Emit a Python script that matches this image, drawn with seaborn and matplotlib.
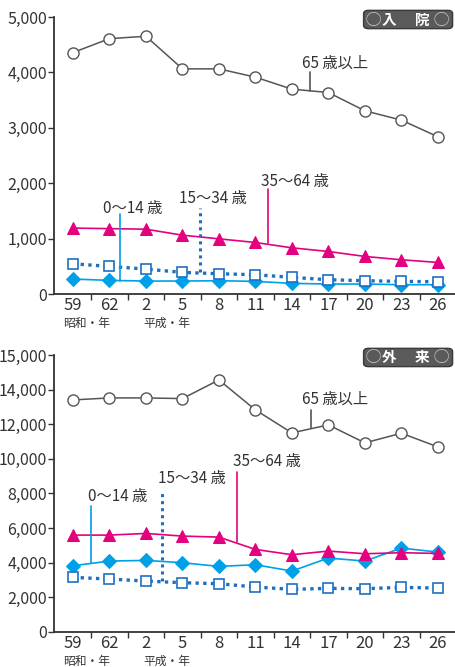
import numpy as np
import pandas as pd
import matplotlib
matplotlib.use('Agg')
import matplotlib.pyplot as plt
import seaborn as sns
from matplotlib.patches import FancyBboxPatch
from matplotlib.transforms import blended_transform_factory

# x categories (昭和59年 ... 平成26年)
years = ['59', '62', '2', '5', '8', '11', '14', '17', '20', '23', '26']

# 入院
inp_65 = [4358, 4610, 4652, 4064, 4064, 3914, 3698, 3637, 3307, 3139, 2839]
inp_35 = [1190, 1180, 1170, 1062, 996, 930, 834, 768, 678, 618, 570]
inp_15 = [546, 498, 450, 390, 366, 348, 300, 258, 240, 228, 222]
inp_0 = [270, 246, 234, 234, 240, 228, 192, 180, 180, 168, 168]

# 外来
out_65 = [13404, 13519, 13519, 13481, 14558, 12827, 11500, 11962, 10923, 11481, 10692]
out_35 = [5596, 5596, 5692, 5538, 5481, 4769, 4462, 4673, 4519, 4577, 4538]
out_15 = [3154, 3058, 2942, 2846, 2788, 2596, 2462, 2519, 2500, 2577, 2538]
out_0 = [3827, 4096, 4135, 4000, 3788, 3885, 3519, 4269, 4096, 4846, 4615]

inp_ticks = [0, 1000, 2000, 3000, 4000, 5000]
inp_ticklabels = ['0', '1,000', '2,000', '3,000', '4,000', '5,000']
# the original's top label reads 15,000 although spaced like 16,000
out_ticks = [0, 2000, 4000, 6000, 8000, 10000, 12000, 14000, 16000]
out_ticklabels = ['0', '2,000', '4,000', '6,000', '8,000', '10,000', '12,000', '14,000', '15,000']

sns.set_style('ticks')
plt.rcParams['font.family'] = ['Noto Sans CJK JP', 'DejaVu Sans']

GRAY = '#555555'
MAGENTA = '#e4007f'
DBLUE = '#1f6fc0'
LBLUE = '#00a0e9'
TXT = '#333333'

fig = plt.figure(figsize=(4.55, 6.67), dpi=100)
ax1 = fig.add_axes([0.1187, 0.5592, 0.8813, 0.4153])
ax2 = fig.add_axes([0.1187, 0.0525, 0.8813, 0.4153])

x = np.arange(len(years))


def draw(ax, s65, s35, s15, s0, ymax, ticks, ticklabels, chars, callouts):
    sns.lineplot(x=x, y=s0, ax=ax, color=LBLUE, lw=1.2, marker='D', markersize=7,
                 markerfacecolor=LBLUE, markeredgecolor=LBLUE)
    sns.lineplot(x=x, y=s15, ax=ax, color=DBLUE, lw=2.4, linestyle=(0, (1, 1.3)),
                 marker='s', markersize=6.5, markerfacecolor='white',
                 markeredgecolor=DBLUE, markeredgewidth=1.2)
    sns.lineplot(x=x, y=s35, ax=ax, color=MAGENTA, lw=1.2, marker='^', markersize=9,
                 markerfacecolor=MAGENTA, markeredgecolor=MAGENTA)
    sns.lineplot(x=x, y=s65, ax=ax, color=GRAY, lw=1.1, marker='o', markersize=8,
                 markerfacecolor='white', markeredgecolor=GRAY, markeredgewidth=1.0)

    ax.set_xlim(-0.52, 10.47)
    ax.set_ylim(0, ymax)
    ax.set_yticks(ticks)
    ax.set_yticklabels(ticklabels)
    ax.set_xticks(x)
    ax.set_xticklabels(years)
    ax.set_xticks(np.arange(len(years) - 1) + 0.5, minor=True)
    ax.tick_params(axis='x', which='major', length=0, pad=2, labelsize=12, labelcolor=TXT)
    ax.tick_params(axis='x', which='minor', length=4, width=1, color=TXT, direction='out')
    ax.tick_params(axis='y', length=4, width=1, color=TXT, labelsize=11.5, labelcolor=TXT, pad=1)
    ax.set_xlabel('')
    ax.set_ylabel('')
    for side in ['top', 'right']:
        ax.spines[side].set_visible(False)
    for side in ['left', 'bottom']:
        ax.spines[side].set_color(TXT)
        ax.spines[side].set_linewidth(1.3)

    # era labels under tick labels
    tr = blended_transform_factory(ax.transData, ax.transAxes)
    ax.text(-0.27, -0.106, '昭和・年', transform=tr, ha='left', va='center',
            fontsize=8.5, color=TXT)
    ax.text(1.92, -0.106, '平成・年', transform=tr, ha='left', va='center',
            fontsize=8.5, color=TXT)

    # panel title box
    box = FancyBboxPatch((0.772, 0.958), 0.222, 0.066, transform=ax.transAxes,
                         boxstyle='round,pad=0,rounding_size=0.012',
                         fc='#5a5a5a', ec='#3a3a3a', lw=1, clip_on=False)
    ax.add_patch(box)
    for cx, s, col in [(0.796, '◯', '#c8c8c8'), (0.835, chars[0], 'white'),
                       (0.918, chars[1], 'white'), (0.966, '◯', '#c8c8c8')]:
        ax.text(cx, 0.991, s, transform=ax.transAxes, ha='center', va='center',
                fontsize=11 if s == '◯' else 10.5, fontweight='bold',
                color=col, clip_on=False)

    # callouts: (label, line x, line y0, line y1, text x, text y, color, style)
    for label, lx, y0, y1, tx, ty, col, ls in callouts:
        ax.plot([lx, lx], [y0, y1], color=col, lw=1.2 if ls == '-' else 2.2,
                linestyle=ls if ls == '-' else (0, (1, 1.3)))
        ax.text(tx, ty, label, ha='left', va='center', fontsize=11, color=TXT)


draw(ax1, inp_65, inp_35, inp_15, inp_0, 5000, inp_ticks, inp_ticklabels, '入院', [
    ('65 歳以上', 6.49, 3670, 4000, 6.29, 4170, GRAY, '-'),
    ('35〜64 歳', 5.35, 920, 1890, 5.15, 2030, MAGENTA, '-'),
    ('15〜34 歳', 3.48, 390, 1560, 2.9, 1720, DBLUE, ':'),
    ('0〜14 歳', 1.29, 240, 1440, 0.82, 1550, LBLUE, '-'),
])

draw(ax2, out_65, out_35, out_15, out_0, 16000, out_ticks, out_ticklabels, '外来', [
    ('65 歳以上', 6.52, 11770, 12850, 6.29, 13440, GRAY, '-'),
    ('35〜64 歳', 4.5, 5190, 9230, 4.38, 9850, MAGENTA, '-'),
    ('15〜34 歳', 2.45, 2940, 8210, 2.32, 8850, DBLUE, ':'),
    ('0〜14 歳', 0.5, 4000, 7250, 0.4, 7850, LBLUE, '-'),
])

fig.savefig('out.png', dpi=100)
